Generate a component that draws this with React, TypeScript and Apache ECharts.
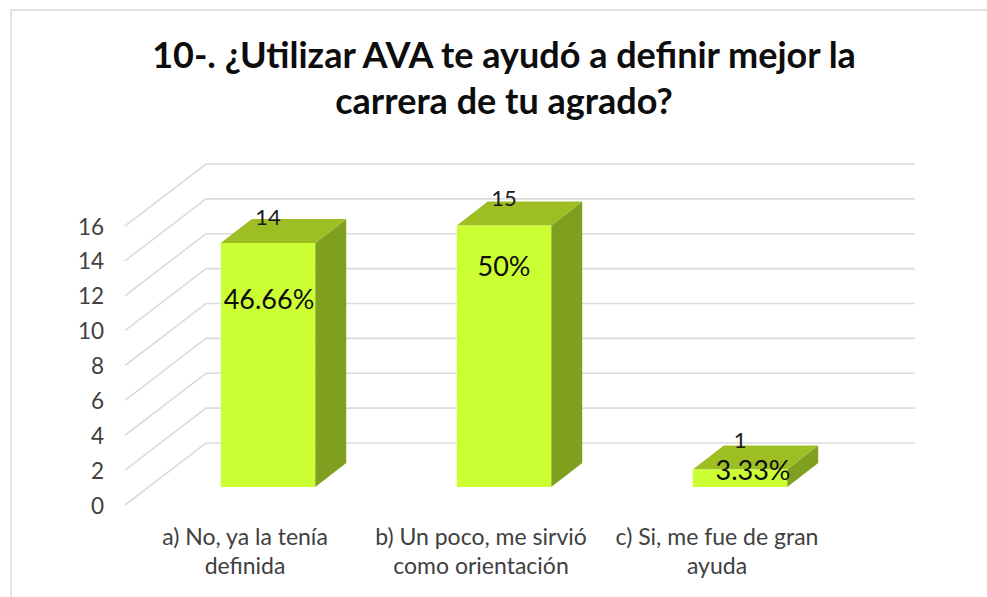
import React, { useEffect, useRef } from "react";
import * as echarts from "echarts";

const titleText = "10-. ¿Utilizar AVA te ayudó a definir mejor la\ncarrera de tu agrado?";
const categories = ["a) No, ya la tenía\ndefinida", "b) Un poco, me sirvió\ncomo orientación", "c) Si, me fue de gran\nayuda"];
const counts = [14, 15, 1];
const percentLabels = ["46.66%", "50%", "3.33%"];
const wallTicks = [0, 2, 4, 6, 8, 10, 12, 14, 16];

// drawing constants, in pixels
const percentOffsetsY = [56, 40, 0];
const percentOffsetsX = [1, 0, 13];
const countOffsetsY = [-2, -4, -6];
const WALL_DX = 81;
const WALL_DY = -62;
const WALL_RIGHT = 915;
const BAR_SHIFT_X = 23;
const BAR_SHIFT_Y = -18;
const BAR_DX = 31;
const BAR_DY = -24;
const BAR_RATIO = 0.4;
const FONT = "Lato, 'Noto Sans', sans-serif";

export default function App() {
  const ref = useRef<HTMLDivElement>(null);
  useEffect(() => {
    const chart = echarts.init(ref.current!, null, { renderer: "svg" });
    chart.setOption({
      animation: false,
      backgroundColor: "#ffffff",
      title: {
        text: titleText,
        left: 499,
        top: 26,
        textAlign: "center",
        textStyle: { fontFamily: FONT, fontSize: 36, fontWeight: "bold", color: "#0d0d0d", lineHeight: 46 },
      },
      graphic: [
        {
          type: "polyline",
          shape: { points: [[11, 597], [11, 10], [987, 10]] },
          style: { stroke: "#e2e2e2", lineWidth: 2, fill: "none" },
        },
      ],
      grid: { left: 127, width: 708, top: 226, height: 279 },
      xAxis: {
        type: "category",
        data: categories,
        axisLine: { show: false },
        axisTick: { show: false },
        axisLabel: { interval: 0, margin: 16, fontFamily: FONT, fontSize: 23, color: "#404040", lineHeight: 29 },
      },
      yAxis: {
        type: "value",
        min: 0,
        max: 16,
        interval: 2,
        splitLine: { show: false },
        axisLine: { show: false },
        axisTick: { show: false },
        axisLabel: { margin: 23, fontFamily: FONT, fontSize: 22.5, color: "#404040" },
      },
      series: [
        {
          type: "custom",
          silent: true,
          data: wallTicks.map((t) => [0, t]),
          encode: { x: 0, y: 1 },
          renderItem: (params: any, api: any) => {
            const y = api.coord([api.value(0), api.value(1)])[1];
            const x = params.coordSys.x - 2;
            return {
              type: "polyline",
              shape: {
                points: [
                  [x, y],
                  [x + WALL_DX, y + WALL_DY],
                  [WALL_RIGHT, y + WALL_DY],
                ],
              },
              style: { stroke: "#dcdcdc", lineWidth: 1.6, fill: "none" },
            };
          },
        },
        {
          type: "custom",
          silent: true,
          z: 3,
          data: counts.map((c, i) => [i, c]),
          encode: { x: 0, y: 1 },
          renderItem: (params: any, api: any) => {
            const i = api.value(0);
            const top = api.coord([i, api.value(1)]);
            const base = api.coord([i, 0]);
            const w = api.size([1, 0])[0] * BAR_RATIO;
            const cx = top[0] + BAR_SHIFT_X;
            const x0 = cx - w / 2;
            const x1 = cx + w / 2;
            const yt = top[1] + BAR_SHIFT_Y;
            const yb = base[1] + BAR_SHIFT_Y;
            return {
              type: "group",
              children: [
                {
                  type: "polygon",
                  shape: { points: [[x1, yt], [x1 + BAR_DX, yt + BAR_DY], [x1 + BAR_DX, yb + BAR_DY], [x1, yb]] },
                  style: { fill: "#7fa01f" },
                },
                {
                  type: "polygon",
                  shape: { points: [[x0, yt], [x0 + BAR_DX, yt + BAR_DY], [x1 + BAR_DX, yt + BAR_DY], [x1, yt]] },
                  style: { fill: "#9dbf24" },
                },
                {
                  type: "rect",
                  shape: { x: x0, y: yt, width: w, height: yb - yt },
                  style: { fill: "#ccff33" },
                },
                {
                  type: "text",
                  x: cx,
                  y: yt + BAR_DY + countOffsetsY[i],
                  style: {
                    text: String(counts[i]),
                    fontFamily: FONT,
                    fontSize: 22,
                    fill: "#1a1a1a",
                    align: "center",
                    verticalAlign: "middle",
                  },
                },
                {
                  type: "text",
                  x: cx + percentOffsetsX[i],
                  y: yt + percentOffsetsY[i],
                  style: {
                    text: percentLabels[i],
                    fontFamily: FONT,
                    fontSize: 27,
                    fill: "#0d0d0d",
                    align: "center",
                    verticalAlign: "middle",
                  },
                },
              ],
            };
          },
        },
      ],
    });
    return () => chart.dispose();
  }, []);
  return (
    <div
      ref={ref}
      style={{ position: "fixed", left: 0, top: 0, width: 987, height: 597 }}
    />
  );
}
